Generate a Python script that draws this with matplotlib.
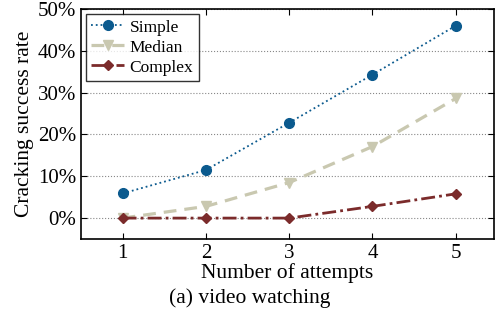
import matplotlib
matplotlib.use("Agg")
import matplotlib.pyplot as plt
from matplotlib.ticker import FuncFormatter

attempts = [1, 2, 3, 4, 5]
simple = [5.9, 11.5, 22.8, 34.3, 46.0]
median = [0.0, 2.8, 8.5, 17.1, 28.6]
complex_ = [0.0, 0.0, 0.0, 2.8, 5.8]
yticks = [0, 10, 20, 30, 40, 50]

plt.rcParams['font.family'] = ['Liberation Serif', 'DejaVu Serif']

fig = plt.figure(figsize=(5.0, 3.18), dpi=100)
ax = fig.add_axes([0.162, 0.2484, 0.826, 0.7233])

ax.plot(attempts, simple, linestyle=':', color='#0b5a8e', marker='o', markersize=7,
        linewidth=1.3, label='Simple')
ax.plot(attempts, median, linestyle=(0, (4, 2.5)), color='#c9c8b0', marker='v', markersize=7,
        linewidth=2.3, label='Median')
ax.plot(attempts, complex_, linestyle=(0, (5, 1.5, 1, 1.5)), color='#7b2b2b', marker='D', markersize=5.5,
        linewidth=2.0, label='Complex')

ax.set_xlim(0.5, 5.46)
ax.set_ylim(-5, 50)
ax.set_xticks(attempts)
ax.set_yticks(yticks)
ax.yaxis.set_major_formatter(FuncFormatter(lambda v, p: f"{int(v)}%"))
ax.grid(axis='y', linestyle=':', color='#888888', linewidth=0.8)
ax.tick_params(direction='in', labelsize=15, length=4, top=True, right=True)
for s in ax.spines.values():
    s.set_linewidth(1.2)
ax.set_xlabel('Number of attempts', fontsize=15.5, labelpad=0)
ax.set_ylabel('Cracking success rate', fontsize=15.5, labelpad=3)

leg = ax.legend(loc='upper left', fontsize=12.5, frameon=True, fancybox=False,
                edgecolor='black', handlelength=1.9, borderpad=0.3, labelspacing=0.22,
                handletextpad=0.3, borderaxespad=0.3)
leg.get_frame().set_linewidth(1.0)

fig.text(0.5, 0.063, '(a) video watching', ha='center', va='center', fontsize=15.5)

fig.savefig('out.png', dpi=100)
